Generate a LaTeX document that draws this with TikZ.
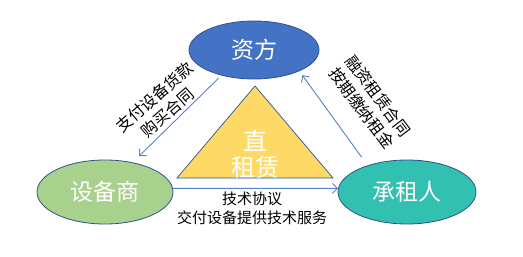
\documentclass[tikz,border=0pt]{standalone}
\usepackage{fontspec}
\setmainfont{Noto Sans CJK SC}
\usetikzlibrary{shapes.geometric,arrows.meta}
\definecolor{zfblue}{HTML}{4472C4}
\definecolor{edgeblue}{HTML}{2F528F}
\definecolor{sbgreen}{HTML}{A9D18E}
\definecolor{czteal}{HTML}{32C0B0}
\definecolor{triyellow}{HTML}{FFD966}
\definecolor{arrblue}{HTML}{5B80CC}
\tikzset{
  party/.style={ellipse, draw=edgeblue, line width=0.8pt, inner sep=0pt,
    text=white, font=\fontsize{23}{23}\selectfont},
  arr/.style={draw=arrblue, line width=0.9pt,
    -{Straight Barb[length=5pt,width=10pt,line width=0.9pt]}},
  lbl/.style={align=center, inner sep=0pt, font=\fontsize{16}{20.5}\selectfont, text=black},
  tri/.style={fill=triyellow, draw=edgeblue, line width=0.7pt, line join=miter},
  tritext/.style={text=white, inner sep=0pt, font=\fontsize{24}{24}\selectfont}
}
\begin{document}
\begin{tikzpicture}[x=1pt,y=-1pt]
\useasboundingbox[fill=white] (0,0) rectangle (523,257);
% triangle
\path[tri] (255,86) -- (177,178) -- (333,178) -- cycle;
\node[tritext] (zhi) at (255,141) {直};
\node[tritext] (zl) at (255,167) {租赁};
% parties
\node[party, fill=zfblue, minimum width=130pt, minimum height=58pt] (zf) at (254,50) {资方};
\node[party, fill=sbgreen, minimum width=136pt, minimum height=64pt] (sb) at (105,192) {设备商};
\node[party, fill=czteal, minimum width=138pt, minimum height=64pt] (cz) at (407,192) {承租人};
% arrows
\draw[arr, shorten <=4pt, shorten >=9pt] (zf.218) -- (sb.47);
\draw[arr, shorten <=10pt, shorten >=5pt] (cz.146) -- (zf.335);
\draw[arr] (sb.3) -- (cz.177);
% labels
\node[lbl, rotate=41] (l1) at (161,105) {支付设备货款\\购买合同};
\node[lbl, rotate=-53] (l2) at (370,102) {融资租赁合同\\按期缴纳租金};
\node[lbl, font=\fontsize{15}{19}\selectfont] (l3) at (252,208) {技术协议\\交付设备提供技术服务};
\end{tikzpicture}
\end{document}
